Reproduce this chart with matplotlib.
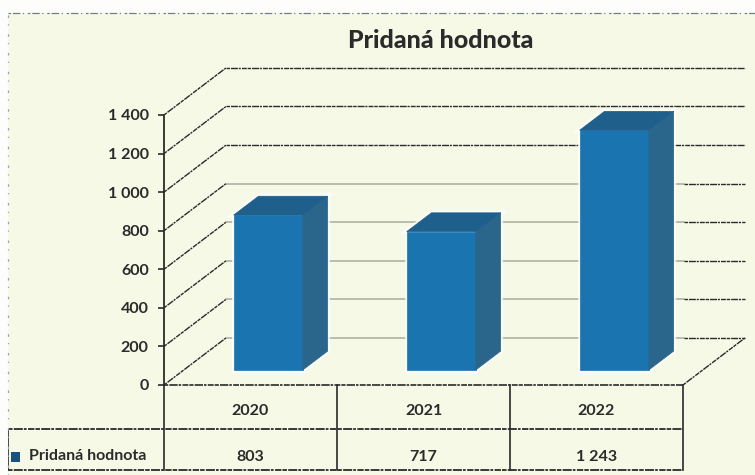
import matplotlib
import matplotlib.pyplot as plt
from matplotlib.patches import Polygon, Rectangle

matplotlib.use('Agg')

title = 'Pridaná hodnota'
years = ['2020', '2021', '2022']
values = [803, 717, 1243]
value_labels = ['803', '717', '1 243']
grid_values = [0, 200, 400, 600, 800, 1000, 1200, 1400]
grid_labels = ['0', '200', '400', '600', '800', '1 000', '1 200', '1 400']

W, H = 755, 475
BG = '#f5f9e6'
INK = '#2b2b2b'

# oblique offsets of the back wall, in data units
DEPTH_X = 62 / 173
DEPTH_Y = 47 / 38.5 * 200
BAR_W = 0.40
BAR_NEAR = 0.32
BAR_FAR = 0.72

plt.rcParams['font.family'] = ['Lato', 'DejaVu Sans']

fig = plt.figure(figsize=(W / 100, H / 100), dpi=100, facecolor=BG)

# pale scanner margin along the top and left edge
fig.add_artist(Rectangle((0, 1 - 13 / H), 1, 13 / H, transform=fig.transFigure, fc='#fdfefb', ec='none'))
fig.add_artist(Rectangle((0, 0), 8 / W, 1, transform=fig.transFigure, fc='#fdfefb', ec='none'))
edge = (0, (2, 1.5, 6, 2, 1, 3))
fig.add_artist(plt.Line2D([8 / W, 1], [1 - 13 / H, 1 - 13 / H], color='#6f7f86', lw=0.9, ls=edge))
fig.add_artist(plt.Line2D([8 / W, 8 / W], [0, 1 - 13 / H], color='#8fa6b5', lw=0.9, ls=(0, (1, 5, 2, 7))))

ax = fig.add_axes([164 / W, (H - 385) / H, 519 / W, 270 / H])
ax.set_xlim(0, 3)
ax.set_ylim(0, 1400)
ax.patch.set_visible(False)
for s in ax.spines.values():
    s.set_visible(False)
ax.spines['left'].set_visible(True)
ax.spines['left'].set_linewidth(1.3)
ax.spines['left'].set_color(INK)


def shifted(x, y, depth):
    return x + DEPTH_X * depth, y + DEPTH_Y * depth


dash = (0, (2.5, 0.7, 5, 0.6, 1.5, 0.8, 3.5, 0.6))
for v in grid_values:
    x0, y0 = shifted(0, v, 1)
    x1, y1 = shifted(3, v, 1)
    if v <= 800:
        ax.plot([x0, x1 - 0.35], [y0, y1], color='#a9ad9e', lw=1.1, clip_on=False, zorder=1)
        ax.plot([x1 - 0.35, x1], [y1, y1], color=INK, lw=1, ls=dash, clip_on=False, zorder=1)
    else:
        ax.plot([x0, x1], [y0, y1], color=INK, lw=1, ls=dash, clip_on=False, zorder=1)
    ax.plot([0, x0], [v, y0], color=INK, lw=1, ls=dash, clip_on=False, zorder=1)

# floor edge on the right
x1, y1 = shifted(3, 0, 1)
ax.plot([3, x1], [0, y1], color=INK, lw=1, ls=dash, clip_on=False, zorder=1)

for i, v in enumerate(values):
    left = i + 0.5 - BAR_W / 2 - 0.012
    right = left + BAR_W
    a = [shifted(left, 0, BAR_NEAR), shifted(right, 0, BAR_NEAR),
         shifted(right, v, BAR_NEAR), shifted(left, v, BAR_NEAR)]
    side = [shifted(right, 0, BAR_NEAR), shifted(right, 0, BAR_FAR),
            shifted(right, v, BAR_FAR), shifted(right, v, BAR_NEAR)]
    top = [shifted(left, v, BAR_NEAR), shifted(right, v, BAR_NEAR),
           shifted(right, v, BAR_FAR), shifted(left, v, BAR_FAR)]
    for pts in (a, side, top):
        ax.add_patch(Polygon(pts, closed=True, fc='#ffffff', ec='#ffffff', lw=3.5,
                             alpha=0.8, clip_on=False, zorder=2))
    ax.add_patch(Polygon(a, closed=True, fc='#1a74b0', ec='#1a74b0', lw=0.5, clip_on=False, zorder=3))
    ax.add_patch(Polygon(side, closed=True, fc='#2a668c', ec='#2a668c', lw=0.5, clip_on=False, zorder=3))
    ax.add_patch(Polygon(top, closed=True, fc='#1f5f8c', ec='#1f5f8c', lw=0.5, clip_on=False, zorder=3))

ax.set_yticks(grid_values, grid_labels)
ax.set_xticks([0.5, 1.5, 2.5], years)
ax.tick_params(axis='y', length=4, width=1.2, color=INK, pad=7, labelsize=11.5, labelcolor=INK)
ax.tick_params(axis='x', length=0, pad=14, labelsize=11.5, labelcolor=INK)
for lab in ax.get_yticklabels() + ax.get_xticklabels():
    lab.set_fontweight('bold')

# data table under the plot, in axes fractions
row1 = -44 / 270
row2 = -85 / 270
x_legend = -156 / 519
tr = ax.transAxes
ax.plot([x_legend, 1], [row1, row1], transform=tr, color=INK, lw=1.3, ls=dash, clip_on=False)
ax.plot([x_legend, 1], [row2, row2], transform=tr, color=INK, lw=1.3, ls=dash, clip_on=False)
ax.plot([0, 1], [0, 0], transform=tr, color=INK, lw=1.2, ls=dash, clip_on=False)
ax.plot([x_legend, x_legend], [row1, row2], transform=tr, color=INK, lw=1.2, clip_on=False)
for k in range(4):
    ax.plot([k / 3, k / 3], [0, row2], transform=tr, color=INK, lw=1.2, clip_on=False)
for i, lab in enumerate(value_labels):
    ax.text((i + 0.5) / 3, row1 + (row2 - row1) * 0.68, lab, transform=tr, ha='center', va='center',
            fontsize=11.5, fontweight='bold', color=INK)
ax.add_patch(Rectangle((-153 / 519, -77 / 270), 9 / 519, 10 / 270, transform=tr,
                       fc='#17517f', ec='none', clip_on=False))
ax.text(-135 / 519, row1 + (row2 - row1) * 0.66, title, transform=tr, ha='left', va='center',
        fontsize=11.5, fontweight='bold', color=INK)

fig.text(441 / W, 1 - 41 / H, title, ha='center', va='center', fontsize=18,
         fontweight=900, color=INK)

fig.savefig('out.png', dpi=100, facecolor=BG)
plt.close(fig)
